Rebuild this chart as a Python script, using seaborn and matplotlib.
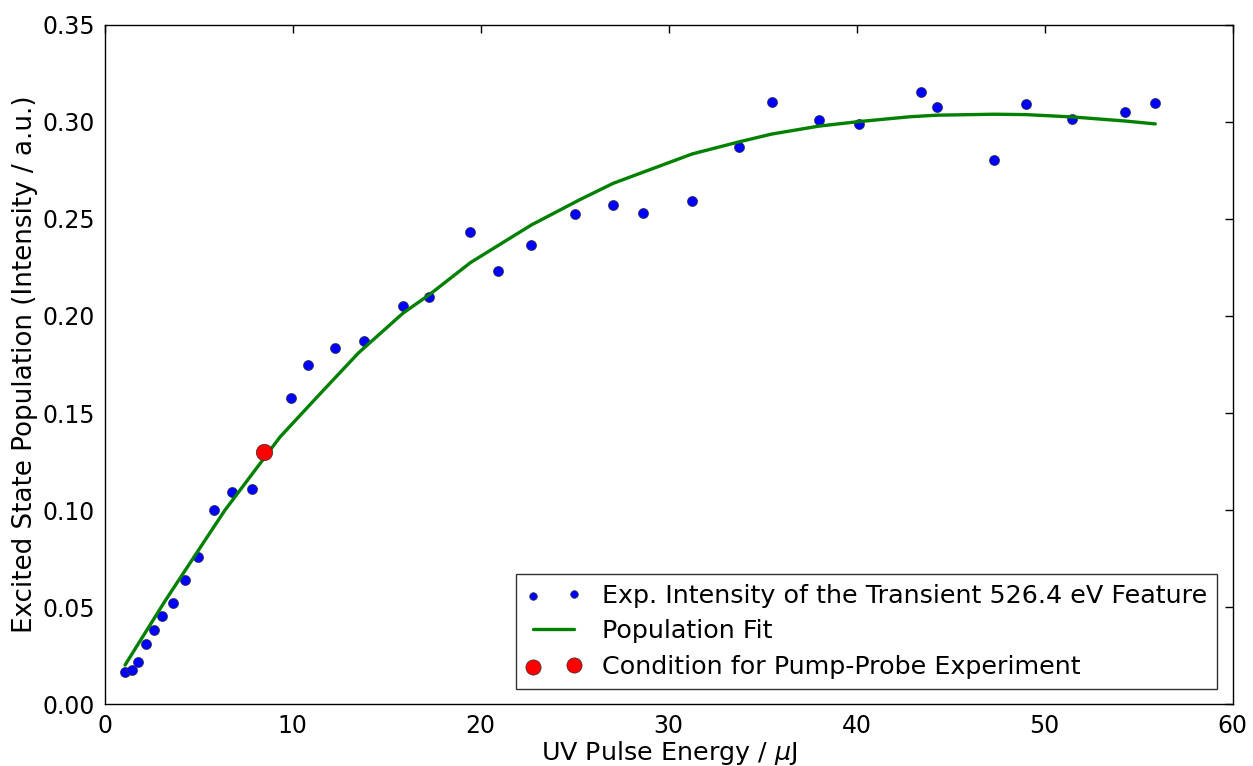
import numpy as np
import pandas as pd
import matplotlib
matplotlib.use("Agg")
import matplotlib.pyplot as plt
import seaborn as sns

# ==================== data ====================
exp_energy = [1.10, 1.45, 1.77, 2.20, 2.62, 3.05, 3.65, 4.29, 4.98, 5.80,
              6.77, 7.84, 9.89, 10.80, 12.27, 13.81, 15.85, 17.27, 19.45, 20.90,
              22.69, 25.00, 27.05, 28.62, 31.24, 33.76, 35.49, 38.01, 40.11, 43.40,
              44.27, 47.32, 48.99, 51.47, 54.27, 55.88]
exp_intensity = [0.0165, 0.0175, 0.0218, 0.0311, 0.0380, 0.0452, 0.0521, 0.0639, 0.0759, 0.1000,
                 0.1091, 0.1110, 0.1576, 0.1747, 0.1837, 0.1873, 0.2052, 0.2096, 0.2431, 0.2234,
                 0.2364, 0.2526, 0.2572, 0.2531, 0.2594, 0.2871, 0.3105, 0.3012, 0.2990, 0.3153,
                 0.3076, 0.2803, 0.3091, 0.3017, 0.3053, 0.3096]

fit_energy = [1.08, 3.20, 5.34, 6.40, 9.32, 11.29, 13.50, 15.87, 17.27, 19.45,
              22.69, 25.28, 27.05, 31.24, 33.76, 35.49, 38.01, 40.11, 42.84, 44.27,
              47.32, 48.99, 51.47, 54.27, 55.88]
fit_population = [0.0201, 0.0530, 0.0845, 0.1000, 0.1376, 0.1582, 0.1810, 0.2015, 0.2110, 0.2275,
                  0.2469, 0.2600, 0.2684, 0.2835, 0.2898, 0.2938, 0.2979, 0.3002, 0.3027, 0.3035,
                  0.3040, 0.3038, 0.3026, 0.3005, 0.2990]

pp_energy = [8.47]
pp_intensity = [0.1299]

df_exp = pd.DataFrame({'energy': exp_energy, 'intensity': exp_intensity})
df_fit = pd.DataFrame({'energy': fit_energy, 'population': fit_population})
df_pp = pd.DataFrame({'energy': pp_energy, 'intensity': pp_intensity})

# ==================== style ====================
sns.set_style("white")
plt.rcParams['font.family'] = ['DejaVu Sans']
plt.rcParams['font.size'] = 17
plt.rcParams['text.color'] = 'black'
plt.rcParams['axes.labelcolor'] = 'black'
plt.rcParams['xtick.color'] = 'black'
plt.rcParams['ytick.color'] = 'black'
plt.rcParams['xtick.direction'] = 'in'
plt.rcParams['ytick.direction'] = 'in'

fig = plt.figure(figsize=(12.53, 7.66), dpi=100)
ax = fig.add_axes([0.0836, 0.0809, 0.9002, 0.8865])

sns.scatterplot(data=df_exp, x='energy', y='intensity', ax=ax,
                color='blue', s=52, edgecolor='#333333', linewidth=0.5,
                label='Exp. Intensity of the Transient 526.4 eV Feature', zorder=2)
sns.lineplot(data=df_fit, x='energy', y='population', ax=ax,
             color='green', linewidth=2.4, label='Population Fit', zorder=3)
sns.scatterplot(data=df_pp, x='energy', y='intensity', ax=ax,
                color='red', s=140, edgecolor='#333333', linewidth=0.5,
                label='Condition for Pump-Probe Experiment', zorder=4)

ax.set_xlim(0, 60)
ax.set_ylim(0, 0.35)
ax.set_xticks(np.arange(0, 61, 10))
ax.set_yticks(np.arange(0, 0.351, 0.05))
ax.set_yticklabels([f'{v:.2f}' for v in np.arange(0, 0.351, 0.05)])
ax.tick_params(axis='both', which='major', labelsize=17, length=6, width=1,
               direction='in', top=True, right=True, colors='black', pad=7)
for sp in ax.spines.values():
    sp.set_visible(True)
    sp.set_color('black')
    sp.set_linewidth(1)

ax.set_xlabel('UV Pulse Energy / $\\mu$J', fontsize=18.3, labelpad=1)
ax.set_ylabel('Excited State Population (Intensity / a.u.)', fontsize=18.8, labelpad=3)

leg = ax.legend(loc='lower right', scatterpoints=2, numpoints=2, fontsize=18.3,
                frameon=True, fancybox=False, markerscale=1,
                borderaxespad=0.6, handlelength=2.2, edgecolor='black',
                labelspacing=0.45, borderpad=0.4)
leg.get_frame().set_linewidth(1)
for t in leg.get_texts():
    t.set_color('black')
# legend marker sizes as in the original figure
handles = leg.legend_handles
handles[0].set_sizes([30])
handles[2].set_sizes([120])

fig.savefig('out.png', dpi=100)
